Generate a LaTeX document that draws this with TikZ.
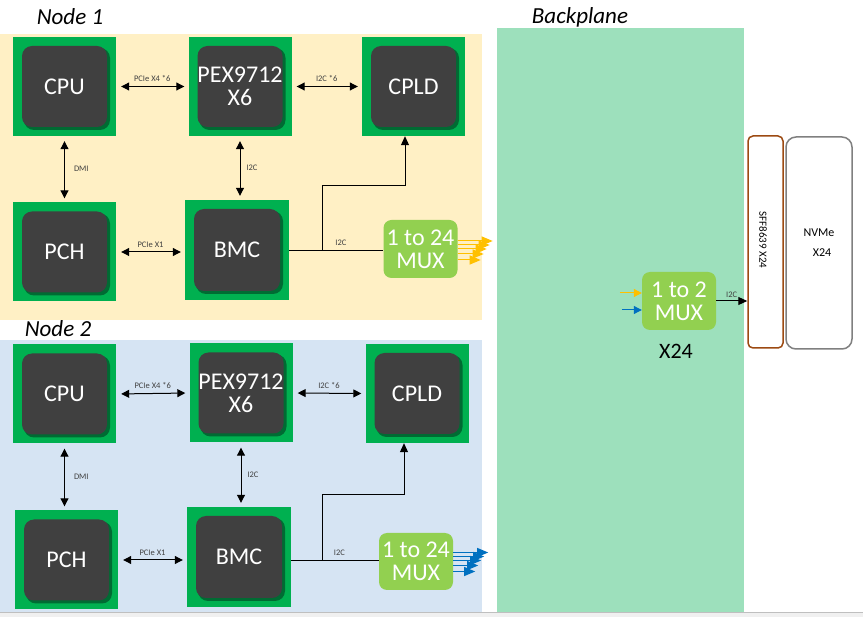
\documentclass[tikz,border=0pt]{standalone}
\usepackage{fontspec}
\setmainfont{Carlito}
\usetikzlibrary{arrows.meta,positioning}

\definecolor{nodeyellow}{HTML}{FFF0C5}
\definecolor{nodeblue}{HTML}{D6E4F3}
\definecolor{planegreen}{HTML}{9DE0BC}
\definecolor{chipgreen}{HTML}{00B050}
\definecolor{coregray}{HTML}{404040}
\definecolor{coreshade}{HTML}{006B33}
\definecolor{muxgreen}{HTML}{92D050}
\definecolor{sigorange}{HTML}{FFC000}
\definecolor{sigblue}{HTML}{0070C0}
\definecolor{connbrown}{HTML}{9C4A12}

\begin{document}
\begin{tikzpicture}[
  x=1pt, y=-1pt,
  chip/.style={rectangle, fill=chipgreen, minimum width=103pt, minimum height=99pt, inner sep=0pt,
    align=center, text=white, font=\fontsize{24}{23}\selectfont,
    path picture={
      \fill[coreshade, rounded corners=10pt] ([xshift=11pt,yshift=-11pt]path picture bounding box.north west) rectangle ([xshift=-6pt,yshift=6pt]path picture bounding box.south east);
      \fill[coregray, rounded corners=10pt] ([xshift=9pt,yshift=-9pt]path picture bounding box.north west) rectangle ([xshift=-9pt,yshift=9pt]path picture bounding box.south east);
    }},
  mux/.style={rectangle, rounded corners=8pt, fill=muxgreen, minimum width=74pt, minimum height=58pt, inner sep=0pt,
    align=center, text=white, font=\fontsize{24}{23}\selectfont},
  lbl/.style={font=\fontsize{8.5}{9}\selectfont, text=black!75, inner sep=1pt},
  title/.style={font=\fontsize{23}{24}\selectfont\itshape},
  biarr/.style={{Triangle[length=8pt,width=8pt]}-{Triangle[length=8pt,width=8pt]}, line width=1pt, shorten <=5pt, shorten >=4pt},
  wire/.style={line width=1pt},
  tip/.style={wire, -{Triangle[length=9pt,width=8pt]}},
  fan/.style={line width=1pt, -{Triangle[length=11pt,width=9pt]}}
]
\useasboundingbox (0,0) rectangle (863,617);

% areas
\fill[nodeyellow] (0,34) rectangle (482,320);
\fill[nodeblue] (0,340) rectangle (482,612);
\fill[planegreen] (497,28) rectangle (744,612);
\fill[black!6] (0,612) rectangle (863,617);
\draw[black!25] (0,612) -- (863,612);

\node[title] (t1) at (70,17) {Node 1};
\node[title] (t2) at (58,329) {Node 2};
\node[title] (t3) at (580,17) {Backplane};

% Node 1
\node[chip] (cpu1) at (64.5,86.5) {CPU};
\node[chip] (pex1) at (240,86.5) {PEX9712\\X6};
\node[chip] (cpld1) at (413.5,86.5) {CPLD};
\node[chip] (pch1) at (64.5,252) {PCH};
\node[chip, minimum width=104pt, minimum height=100pt] (bmc1) at (237,250) {BMC};
\node[mux] (mux1) at (420.5,249) {1 to 24\\MUX};

\draw[biarr] (cpu1.east) -- node[lbl, above=3pt] (l1a) {PCIe X4 *6} (pex1.west);
\draw[biarr] (pex1.east) -- node[lbl, above=3pt] (l1b) {I2C *6} (cpld1.west);
\draw[biarr] (cpu1.south) -- node[lbl, right=8pt] (l1c) {DMI} (pch1.north);
\draw[biarr] (pex1.south) -- node[lbl, right=5pt] (l1d) {I2C} (pex1.south |- bmc1.north);
\draw[biarr] (pch1.east) -- node[lbl, above=3pt] (l1e) {PCIe X1} (pch1.east -| bmc1.west);

\coordinate (j1) at (322,251);
\coordinate (k1) at (405,186);
\draw[wire] (bmc1.east |- j1) -- node[lbl, above=4pt, pos=0.55] (l1f) {I2C} (mux1.west |- j1);
\draw[tip] (j1) -- (j1 |- k1) -- (k1) -- (k1 |- cpld1.south);
\foreach \dy/\len in {-8/35, -4/32, 0/29, 5/26, 11/23}
  \draw[fan, sigorange] ([shift={(0,\dy)}]mux1.east) -- ++(\len,0);

% Node 2
\node[chip] (cpu2) at (64.5,394) {CPU};
\node[chip] (pex2) at (241,393) {PEX9712\\X6};
\node[chip] (cpld2) at (417,393.5) {CPLD};
\node[chip] (pch2) at (66.5,560) {PCH};
\node[chip, minimum width=104pt, minimum height=100pt] (bmc2) at (239,557) {BMC};
\node[mux, minimum height=57pt] (mux2) at (416,561.5) {1 to 24\\MUX};

\draw[biarr] (cpu2.east) -- node[lbl, above=3pt] (l2a) {PCIe X4 *6} (pex2.west);
\draw[biarr] (pex2.east) -- node[lbl, above=3pt] (l2b) {I2C *6} (cpld2.west);
\draw[biarr] (cpu2.south) -- node[lbl, right=8pt] (l2c) {DMI} (cpu2.south |- pch2.north);
\draw[biarr] (pex2.south) -- node[lbl, right=5pt] (l2d) {I2C} (pex2.south |- bmc2.north);
\draw[biarr] (pch2.east) -- node[lbl, above=3pt] (l2e) {PCIe X1} (pch2.east -| bmc2.west);

\coordinate (j2) at (322,561);
\coordinate (k2) at (404,495);
\draw[wire] (bmc2.east |- j2) -- node[lbl, above=4pt, pos=0.55] (l2f) {I2C} (mux2.west |- j2);
\draw[tip] (j2) -- (j2 |- k2) -- (k2) -- (k2 |- cpld2.south);
\foreach \dy/\len in {-9/35, -5/31, -1/28, 4/25, 10/22}
  \draw[fan, sigblue] ([shift={(0,\dy)}]mux2.east) -- ++(\len,0);

% Backplane
\node[mux] (mux3) at (679,301) {1 to 2\\MUX};
\node[font=\fontsize{22}{24}\selectfont] (x24) at (676,351) {X24};
\node[draw=connbrown, line width=1.5pt, rounded corners=5pt, minimum width=35pt, minimum height=212pt, inner sep=0pt] (sff) at (765.5,242) {};
\node[rotate=-90, font=\fontsize{11}{12}\selectfont] (sfft) at (763,240) {SFF8639 X24};
\node[draw=black!50, line width=1.5pt, rounded corners=10pt, minimum width=66pt, minimum height=212pt, inner sep=0pt,
  align=center, font=\fontsize{12}{20}\selectfont] (nvme) at (819,243) {NVMe\\\hspace*{6pt}X24};

\draw[fan, sigorange, -{Triangle[length=8pt,width=8pt]}] ([shift={(-22,-8)}]mux3.west) -- ([shift={(0,-8)}]mux3.west);
\draw[fan, sigblue, -{Triangle[length=8pt,width=8pt]}] ([shift={(-20,9)}]mux3.west) -- ([shift={(0,9)}]mux3.west);
\draw[tip] (mux3.east) -- node[lbl, above=2pt] (l3) {I2C} (mux3.east -| sff.west);

\end{tikzpicture}
\end{document}
